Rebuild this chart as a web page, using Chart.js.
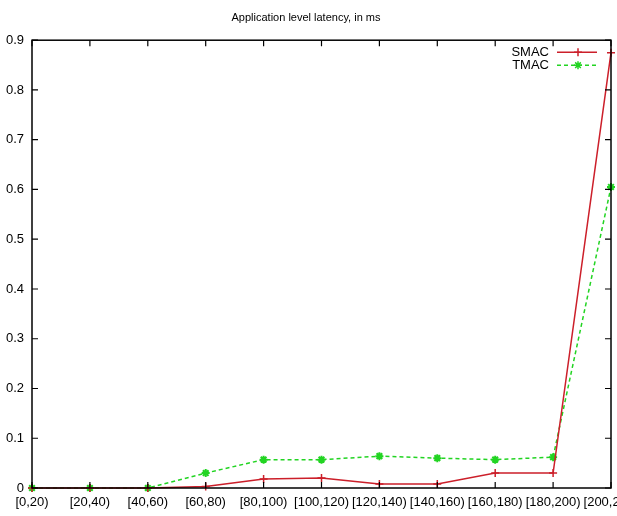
<!DOCTYPE html>
<html>
<head>
<meta charset="utf-8">
<script src="https://cdn.jsdelivr.net/npm/chart.js"></script>
<style>
  html, body { margin: 0; padding: 0; background: #fff; overflow: hidden; }
  canvas { display: block; }
</style>
</head>
<body>
<canvas id="latencyChart" width="617" height="516"></canvas>
<script>
// --- podatki, odčitani s slike ---
const categories = ['[0,20)', '[20,40)', '[40,60)', '[60,80)', '[80,100)', '[100,120)',
  '[120,140)', '[140,160)', '[160,180)', '[180,200)', '[200,220)'];
const smac = [0, 0, 0, 0.003, 0.018, 0.02, 0.008, 0.008, 0.03, 0.03, 0.875];
const tmac = [0, 0, 0, 0.03, 0.057, 0.057, 0.064, 0.06, 0.057, 0.062, 0.605];
const yTicks = [0, 0.1, 0.2, 0.3, 0.4, 0.5, 0.6, 0.7, 0.8, 0.9];

const FONT = 'Liberation Sans, Arial, sans-serif';
const RED = '#cc1f2a';
const GREEN = '#22d422';

// okvir, notranje oznake in legenda v stilu gnuplota
const gnuplotFrame = {
    id: 'gnuplotFrame',
    afterDatasetsDraw(chart) {
        const { ctx, chartArea: a, scales } = chart;
        ctx.save();
        ctx.strokeStyle = '#000';
        ctx.lineWidth = 1.5;
        ctx.strokeRect(a.left, a.top, a.right - a.left, a.bottom - a.top);

        ctx.lineWidth = 1.2;
        ctx.beginPath();
        const len = 6;
        scales.x.ticks.forEach((t, i) => {
            const x = scales.x.getPixelForTick(i);
            ctx.moveTo(x, a.bottom); ctx.lineTo(x, a.bottom - len);
            ctx.moveTo(x, a.top); ctx.lineTo(x, a.top + len);
        });
        scales.y.ticks.forEach((t, i) => {
            const y = scales.y.getPixelForTick(i);
            ctx.moveTo(a.left, y); ctx.lineTo(a.left + len, y);
            ctx.moveTo(a.right, y); ctx.lineTo(a.right - len, y);
        });
        ctx.stroke();

        // legenda zgoraj desno
        ctx.font = '13px ' + FONT;
        ctx.textAlign = 'right';
        ctx.textBaseline = 'middle';
        chart.data.datasets.forEach((ds, i) => {
            const y = a.top + 12 + i * 13;
            ctx.fillStyle = '#000';
            ctx.fillText(ds.label, a.right - 62, y);
            ctx.strokeStyle = ds.borderColor;
            ctx.lineWidth = 1.5;
            ctx.setLineDash(ds.borderDash || []);
            ctx.beginPath();
            ctx.moveTo(a.right - 54, y); ctx.lineTo(a.right - 14, y);
            ctx.stroke();
            ctx.setLineDash([]);
            Chart.helpers.drawPoint(ctx, {
                pointStyle: ds.pointStyle, radius: ds.pointRadius, borderWidth: 1.5
            }, a.right - 33, y);
        });
        ctx.restore();
    }
};

new Chart(document.getElementById('latencyChart'), {
    type: 'line',
    data: {
        labels: categories,
        datasets: [{
            label: 'SMAC',
            data: smac,
            borderColor: RED,
            backgroundColor: RED,
            borderWidth: 1.5,
            pointStyle: 'cross',
            pointRadius: 4,
            pointBorderWidth: 1.5,
            tension: 0,
            clip: false
        }, {
            label: 'TMAC',
            data: tmac,
            borderColor: GREEN,
            backgroundColor: GREEN,
            borderWidth: 1.5,
            borderDash: [4, 3],
            pointStyle: 'star',
            pointRadius: 4,
            pointBorderWidth: 2,
            tension: 0,
            clip: false
        }]
    },
    options: {
        responsive: false,
        animation: false,
        devicePixelRatio: 1,
        layout: { padding: { left: 0, right: 5, top: 0, bottom: 0 } },
        plugins: {
            legend: { display: false },
            tooltip: { enabled: false },
            title: {
                display: true,
                text: 'Application level latency, in ms',
                color: '#000',
                font: { family: FONT, size: 11, weight: 'normal' },
                padding: { top: 11, bottom: 16 }
            }
        },
        scales: {
            x: {
                offset: false,
                grid: { display: false, drawTicks: false },
                border: { display: false },
                ticks: {
                    color: '#000',
                    font: { family: FONT, size: 13 },
                    padding: 7,
                    autoSkip: false,
                    maxRotation: 0,
                    minRotation: 0
                },
                afterFit(scale) {
                    scale.paddingLeft = 0;
                    scale.paddingRight = 0;
                    scale.height = 28;
                }
            },
            y: {
                min: 0,
                max: 0.9,
                grid: { display: false, drawTicks: false },
                border: { display: false },
                afterBuildTicks(scale) {
                    scale.ticks = yTicks.map(v => ({ value: v }));
                },
                ticks: {
                    color: '#000',
                    font: { family: FONT, size: 13 },
                    padding: 8
                },
                afterFit(scale) {
                    scale.width = 32;
                    scale.paddingTop = 0;
                    scale.paddingBottom = 0;
                }
            }
        }
    },
    plugins: [gnuplotFrame]
});
</script>
</body>
</html>
